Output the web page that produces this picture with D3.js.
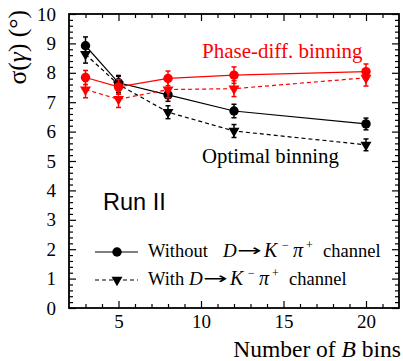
<!DOCTYPE html>
<html>
<head>
<meta charset="utf-8">
<script src="https://cdn.jsdelivr.net/npm/d3@7"></script>
<style>
  body { margin: 0; background: #fff; }
  svg { display: block; }
  .axis path { display: none; }
  .axis line { stroke: #000; stroke-width: 1.2; }
</style>
</head>
<body>
<div id="chart"></div>
<script>
// number of B bins
const bins = [3, 5, 8, 12, 20];

// sigma(gamma) in degrees
const optWithout    = [8.92, 7.66, 7.25, 6.70, 6.26];
const optWithoutErr = [0.30, 0.25, 0.22, 0.23, 0.20];
const optWith       = [8.63, 7.60, 6.66, 6.02, 5.55];
const optWithErr    = [0.30, 0.28, 0.22, 0.22, 0.20];
const phWithout     = [7.84, 7.52, 7.81, 7.92, 8.04];
const phWithoutErr  = [0.24, 0.25, 0.25, 0.28, 0.26];
const phWith        = [7.43, 7.10, 7.43, 7.46, 7.83];
const phWithErr     = [0.28, 0.28, 0.28, 0.27, 0.28];

const xTicks = [5, 10, 15, 20];
const yTicks = [0, 1, 2, 3, 4, 5, 6, 7, 8, 9, 10];

const width = 403, height = 361;
const margin = {top: 14, right: 4, bottom: 53, left: 69};
const iw = width - margin.left - margin.right;
const ih = height - margin.top - margin.bottom;
const serif = '"Liberation Serif", "Times New Roman", serif';

const svg = d3.select('#chart').append('svg')
    .attr('width', width)
    .attr('height', height);

const g = svg.append('g')
    .attr('transform', 'translate(' + margin.left + ',' + margin.top + ')');

const x = d3.scaleLinear().domain([2, 22]).range([0, iw]);
const y = d3.scaleLinear().domain([0, 10]).range([ih, 0]);

const xMinor = d3.range(3, 22, 1).filter(v => v % 5 != 0);
const yMinor = d3.range(0, 10.001, 0.2).filter(v => Math.abs(v - Math.round(v)) > 0.01);

// axes, ticks pointing inwards on all four sides
g.append('g').attr('class', 'axis')
    .attr('transform', 'translate(0,' + ih + ')')
    .call(d3.axisBottom(x).tickValues(xTicks).tickSizeInner(-7).tickSizeOuter(0).tickPadding(7).tickFormat(d3.format('d')))
    .attr('font-family', serif)
    .selectAll('text')
        .style('font-family', serif).style('font-size', '19px').attr('fill', '#000');
g.append('g').attr('class', 'axis')
    .attr('transform', 'translate(0,' + ih + ')')
    .call(d3.axisBottom(x).tickValues(xMinor).tickSizeInner(-4).tickSizeOuter(0).tickFormat(''));
g.append('g').attr('class', 'axis')
    .call(d3.axisTop(x).tickValues(xTicks).tickSizeInner(-7).tickSizeOuter(0).tickFormat(''));
g.append('g').attr('class', 'axis')
    .call(d3.axisTop(x).tickValues(xMinor).tickSizeInner(-4).tickSizeOuter(0).tickFormat(''));

g.append('g').attr('class', 'axis')
    .call(d3.axisLeft(y).tickValues(yTicks).tickSizeInner(-7).tickSizeOuter(0).tickPadding(13).tickFormat(d3.format('d')))
    .attr('font-family', serif)
    .selectAll('text')
        .style('font-family', serif).style('font-size', '19px').attr('fill', '#000');
g.append('g').attr('class', 'axis')
    .call(d3.axisLeft(y).tickValues(yMinor).tickSizeInner(-4).tickSizeOuter(0).tickFormat(''));
g.append('g').attr('class', 'axis')
    .attr('transform', 'translate(' + iw + ',0)')
    .call(d3.axisRight(y).tickValues(yTicks).tickSizeInner(-7).tickSizeOuter(0).tickFormat(''));
g.append('g').attr('class', 'axis')
    .attr('transform', 'translate(' + iw + ',0)')
    .call(d3.axisRight(y).tickValues(yMinor).tickSizeInner(-4).tickSizeOuter(0).tickFormat(''));

// frame
g.append('rect')
    .attr('width', iw).attr('height', ih)
    .attr('fill', 'none').attr('stroke', '#000').attr('stroke-width', 1.8);

const series = [
    {vals: optWithout, errs: optWithoutErr, color: '#000', dash: null,  marker: 'circle'},
    {vals: optWith,    errs: optWithErr,    color: '#000', dash: '4,3', marker: 'tri'},
    {vals: phWith,     errs: phWithErr,     color: '#f00', dash: '4,3', marker: 'tri'},
    {vals: phWithout,  errs: phWithoutErr,  color: '#f00', dash: null,  marker: 'circle'},
];

const line = d3.line().x(d => x(d.b)).y(d => y(d.v));
const circleSym = d3.symbol().type(d3.symbolCircle).size(70);
const triSym = d3.symbol().type(d3.symbolTriangle).size(52);

series.forEach(s => {
    const pts = bins.map((b, i) => ({b: b, v: s.vals[i], e: s.errs[i]}));

    g.append('path')
        .attr('d', line(pts))
        .attr('fill', 'none')
        .attr('stroke', s.color)
        .attr('stroke-width', 1.2)
        .attr('stroke-dasharray', s.dash);

    const eb = g.append('g').attr('stroke', s.color).attr('stroke-width', 1.5);
    pts.forEach(p => {
        const cx = x(p.b), y0 = y(p.v - p.e), y1 = y(p.v + p.e);
        eb.append('line').attr('x1', cx).attr('x2', cx).attr('y1', y0).attr('y2', y1);
        eb.append('line').attr('x1', cx - 2.5).attr('x2', cx + 2.5).attr('y1', y0).attr('y2', y0);
        eb.append('line').attr('x1', cx - 2.5).attr('x2', cx + 2.5).attr('y1', y1).attr('y2', y1);
    });

    g.selectAll(null)
        .data(pts)
        .enter()
        .append('path')
            .attr('d', s.marker == 'circle' ? circleSym : triSym)
            .attr('transform', d => 'translate(' + x(d.b) + ',' + y(d.v) + ')' + (s.marker == 'tri' ? ' rotate(180)' : ''))
            .attr('fill', s.color);
});

// labels inside the plot
svg.append('text')
    .attr('x', 202).attr('y', 58)
    .style('font-family', serif).style('font-size', '21px')
    .attr('fill', '#f00')
    .text('Phase-diff. binning');

svg.append('text')
    .attr('x', 202).attr('y', 163)
    .style('font-family', serif).style('font-size', '20.8px')
    .attr('fill', '#000')
    .text('Optimal binning');

svg.append('text')
    .attr('x', 103).attr('y', 210)
    .style('font-family', '"Liberation Sans", Arial, sans-serif').style('font-size', '23.5px')
    .text('Run II');

// legend, pieces placed one by one like the TLatex original
const legend = [
    {label: 'Without', dash: null, marker: 'circle', yy: 252, ty: 257, dx: 223},
    {label: 'With', dash: '4,3', marker: 'tri', yy: 280, ty: 285, dx: 189},
];
function legText(xx, yy, txt, size, italic) {
    return svg.append('text')
        .attr('x', xx).attr('y', yy)
        .style('font-family', serif).style('font-size', size + 'px')
        .style('font-style', italic ? 'italic' : 'normal')
        .text(txt);
}
legend.forEach(l => {
    svg.append('line')
        .attr('x1', 95).attr('x2', 138).attr('y1', l.yy).attr('y2', l.yy)
        .attr('stroke', '#000').attr('stroke-width', 1.2)
        .attr('stroke-dasharray', l.dash);
    svg.append('path')
        .attr('d', l.marker == 'circle' ? circleSym : triSym)
        .attr('transform', 'translate(117,' + l.yy + ')' + (l.marker == 'tri' ? ' rotate(180)' : ''))
        .attr('fill', '#000');
    legText(148, l.ty, l.label, 18.5, false);
    legText(l.dx, l.ty, 'D', 19, true);
    svg.append('text')
        .attr('transform', 'translate(' + (l.dx + 14) + ',' + (l.ty - 1) + ') scale(1.85,1)')
        .style('font-family', '"DejaVu Sans", sans-serif').style('font-size', '16px')
        .text('\u2192');
    legText(l.dx + 41, l.ty, 'K', 20, true);
    legText(l.dx + 59, l.ty - 8, '\u2212', 12, false);
    legText(l.dx + 70, l.ty, '\u03c0', 20, true);
    legText(l.dx + 83, l.ty - 8, '+', 12, false);
    legText(l.dx + 100, l.ty, 'channel', 18.5, false);
});

// axis titles
const xt = svg.append('text')
    .attr('x', 401).attr('y', 357)
    .attr('text-anchor', 'end')
    .style('font-family', serif).style('font-size', '23.5px');
xt.append('tspan').text('Number of ');
xt.append('tspan').style('font-style', 'italic').text('B');
xt.append('tspan').text(' bins');

const yt = svg.append('text')
    .attr('transform', 'translate(26,10) rotate(-90)')
    .attr('text-anchor', 'end')
    .style('font-family', serif).style('font-size', '25.5px');
yt.append('tspan').text('\u03c3(');
yt.append('tspan').style('font-style', 'italic').text('\u03b3');
yt.append('tspan').text(') (\u00b0)');
</script>
</body>
</html>
